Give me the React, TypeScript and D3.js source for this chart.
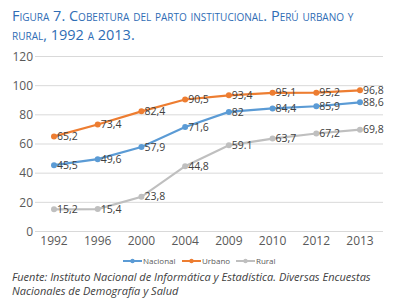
import React from "react";
import * as d3 from "d3";

const years = ["1992", "1996", "2000", "2004", "2009", "2010", "2012", "2013"];
const nacional = [45.5, 49.6, 57.9, 71.6, 82, 84.4, 85.9, 88.6];
const urbano = [65.2, 73.4, 82.4, 90.5, 93.4, 95.1, 95.2, 96.8];
const rural = [15.2, 15.4, 23.8, 44.8, 59.1, 63.7, 67.2, 69.8];
const nacionalLabels = ["45,5", "49,6", "57,9", "71,6", "82", "84,4", "85,9", "88,6"];
const urbanoLabels = ["65,2", "73,4", "82,4", "90,5", "93,4", "95,1", "95,2", "96,8"];
const ruralLabels = ["15,2", "15,4", "23,8", "44,8", "59.1", "63,7", "67,2", "69,8"];
const yTicks = [0, 20, 40, 60, 80, 100, 120];
const seriesNames = ["Nacional", "Urbano", "Rural"];
const colors = ["#5B9BD5", "#ED7D31", "#BFBFBF"];

const W = 393;
const H = 306;

export default function App() {
  const x = d3.scalePoint<string>().domain(years).range([54, 360]);
  const y = d3.scaleLinear().domain([0, 120]).range([231.5, 56.5]);
  const line = d3
    .line<number>()
    .x((_, i) => x(years[i]) as number)
    .y((d) => y(d));

  const series = [
    { name: seriesNames[0], values: nacional, labels: nacionalLabels, color: colors[0] },
    { name: seriesNames[1], values: urbano, labels: urbanoLabels, color: colors[1] },
    { name: seriesNames[2], values: rural, labels: ruralLabels, color: colors[2] },
  ];

  const font = "'Open Sans', sans-serif";
  const legendX = [123, 182, 236];

  return (
    <svg
      width={W}
      height={H}
      style={{ position: "absolute", left: 0, top: 0, background: "#fff" }}
    >
      <g fill="#2F6DB5" fontFamily={font} fontSize={14.5} style={{ fontVariant: "small-caps" }}>
        <text x={12} y={21}>Figura 7. Cobertura del parto institucional. Perú urbano y</text>
        <text x={12} y={40}>rural, 1992 a 2013.</text>
      </g>

      {yTicks.map((t) => (
        <g key={t}>
          <line x1={35} x2={383} y1={y(t)} y2={y(t)} stroke="#D9D9D9" strokeWidth={1} />
          <text
            x={33}
            y={y(t)}
            dy="0.35em"
            textAnchor="end"
            fontFamily={font}
            fontSize={12}
            fill="#595959"
          >
            {t}
          </text>
        </g>
      ))}

      {years.map((yr) => (
        <text
          key={yr}
          x={x(yr)}
          y={245}
          textAnchor="middle"
          fontFamily={font}
          fontSize={12}
          fill="#595959"
        >
          {yr}
        </text>
      ))}

      {series.map((s) => (
        <g key={s.name}>
          <path d={line(s.values) || ""} fill="none" stroke={s.color} strokeWidth={2.2} />
          {s.values.map((v, i) => (
            <circle key={i} cx={x(years[i])} cy={y(v)} r={3} fill={s.color} />
          ))}
          {s.values.map((v, i) => (
            <text
              key={"l" + i}
              x={(x(years[i]) as number) + 3}
              y={y(v)}
              dy="0.35em"
              fontFamily={font}
              fontSize={10.5}
              fill="#404040"
            >
              {s.labels[i]}
            </text>
          ))}
        </g>
      ))}

      {series.map((s, i) => (
        <g key={"leg" + s.name}>
          <line
            x1={legendX[i]}
            x2={legendX[i] + 19}
            y1={261}
            y2={261}
            stroke={s.color}
            strokeWidth={2}
          />
          <circle cx={legendX[i] + 9.5} cy={261} r={2.2} fill={s.color} />
          <text
            x={legendX[i] + 20}
            y={261}
            dy="0.35em"
            fontFamily={font}
            fontSize={8}
            fill="#595959"
          >
            {s.name}
          </text>
        </g>
      ))}

      <g fontFamily={font} fontSize={11} fontStyle="italic" fill="#404040">
        <text x={12} y={281}>
          Fuente: Instituto Nacional de Informática y Estadística. Diversas Encuestas
        </text>
        <text x={12} y={295}>Nacionales de Demografía y Salud</text>
      </g>
    </svg>
  );
}
